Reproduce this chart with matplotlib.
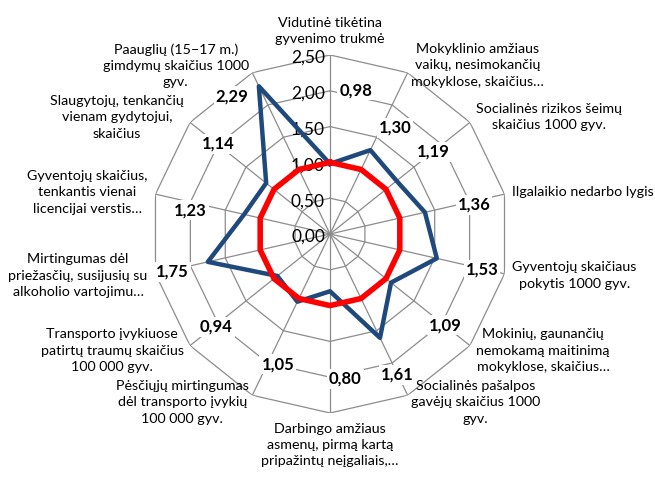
import numpy as np
import matplotlib
matplotlib.use("Agg")
import matplotlib.pyplot as plt

plt.rcParams['font.family'] = ['Lato', 'DejaVu Sans']

# indicator names, clockwise from the top
categories = [
    "Vidutinė tikėtina\ngyvenimo trukmė",
    "Mokyklinio amžiaus\nvaikų, nesimokančių\nmokyklose, skaičius…",
    "Socialinės rizikos šeimų\nskaičius 1000 gyv.",
    "Ilgalaikio nedarbo lygis",
    "Gyventojų skaičiaus\npokytis 1000 gyv.",
    "Mokinių, gaunančių\nnemokamą maitinimą\nmokyklose, skaičius…",
    "Socialinės pašalpos\ngavėjų skaičius 1000\ngyv.",
    "Darbingo amžiaus\nasmenų, pirmą kartą\npripažintų neįgaliais,…",
    "Pėsčiųjų mirtingumas\ndėl transporto įvykių\n100 000 gyv.",
    "Transporto įvykiuose\npatirtų traumų skaičius\n100 000 gyv.",
    "Mirtingumas dėl\npriežasčių, susijusių su\nalkoholio vartojimu…",
    "Gyventojų skaičius,\ntenkantis vienai\nlicencijai verstis…",
    "Slaugytojų, tenkančių\nvienam gydytojui,\nskaičius",
    "Paauglių (15–17 m.)\ngimdymų skaičius 1000\ngyv.",
]

# municipality value relative to the national average
values = [0.98, 1.30, 1.19, 1.36, 1.53, 1.09, 1.61, 0.80, 1.05, 0.94, 1.75, 1.23, 1.14, 2.29]
# national average
baseline = [1.00, 1.00, 1.00, 1.00, 1.00, 1.00, 1.00, 1.00, 1.00, 1.00, 1.00, 1.00, 1.00, 1.00]

ticks = [0.0, 0.5, 1.0, 1.5, 2.0, 2.5]

# where the value labels sit: (angle in degrees, radius)
label_pos = [(10.2, 2.04), (31.5, 1.74), (51.5, 1.84), (78.6, 2.05), (103.3, 2.18),
             (128.4, 2.05), (154.6, 2.18), (174.0, 2.03), (201.8, 1.96), (230.8, 2.05),
             (256.5, 2.26), (279.7, 1.98), (308.8, 2.01), (324.6, 2.36)]


def fmt(v):
    return f"{v:.2f}".replace(".", ",")


n = len(categories)
angles = np.arange(n) * 2 * np.pi / n
closed = np.append(angles, angles[0])

fig = plt.figure(figsize=(6.55, 4.78), dpi=100)
ax = fig.add_axes([0.2305, 0.136, 0.5466, 0.749], projection='polar')
ax.set_theta_zero_location('N')
ax.set_theta_direction(-1)
ax.set_ylim(0, 2.5)
ax.grid(False)
ax.spines['polar'].set_visible(False)
ax.set_xticks([])
ax.set_yticks([])
ax.patch.set_alpha(0)

grid_color = '#8c8c8c'
# polygon rings
for t in ticks[1:]:
    ax.plot(closed, [t] * (n + 1), color=grid_color, lw=0.9, zorder=1)
# spokes
for a in angles:
    ax.plot([a, a], [0, 2.5], color=grid_color, lw=0.9, zorder=1)

# radial tick labels along the top spoke
for t in ticks:
    ax.annotate(fmt(t), xy=(0, t), xytext=(-5, -3), textcoords='offset pixels',
                ha='right', va='center', fontsize=12.5, color='black', zorder=2)

# series
ax.plot(closed, np.append(values, values[0]), color='#1F497D', lw=3.2, zorder=4)
ax.plot(closed, np.append(baseline, baseline[0]), color='#FF0000', lw=4.0, zorder=5)

# value labels
for v, (deg, r) in zip(values, label_pos):
    ax.text(np.deg2rad(deg), r, fmt(v), ha='center', va='center', fontsize=12,
            fontweight='bold', zorder=3,
            bbox=dict(facecolor='white', edgecolor='none', pad=1.5))

# category names outside the outer ring
for a, name in zip(angles, categories):
    s, c = np.sin(a), np.cos(a)
    if s > 0.1:
        ha = 'left'
    elif s < -0.1:
        ha = 'right'
    else:
        ha = 'center'
    if abs(s) <= 0.1:
        va = 'bottom' if c > 0 else 'top'
    else:
        va = 'center'
    off = 8 if abs(s) > 0.1 else 10
    ax.annotate(name, xy=(a, 2.5), xytext=(off * s, off * c), textcoords='offset pixels',
                ha=ha, va=va, multialignment='center', fontsize=10.3, linespacing=1.42,
                annotation_clip=False)

fig.savefig("out.png", dpi=100)
